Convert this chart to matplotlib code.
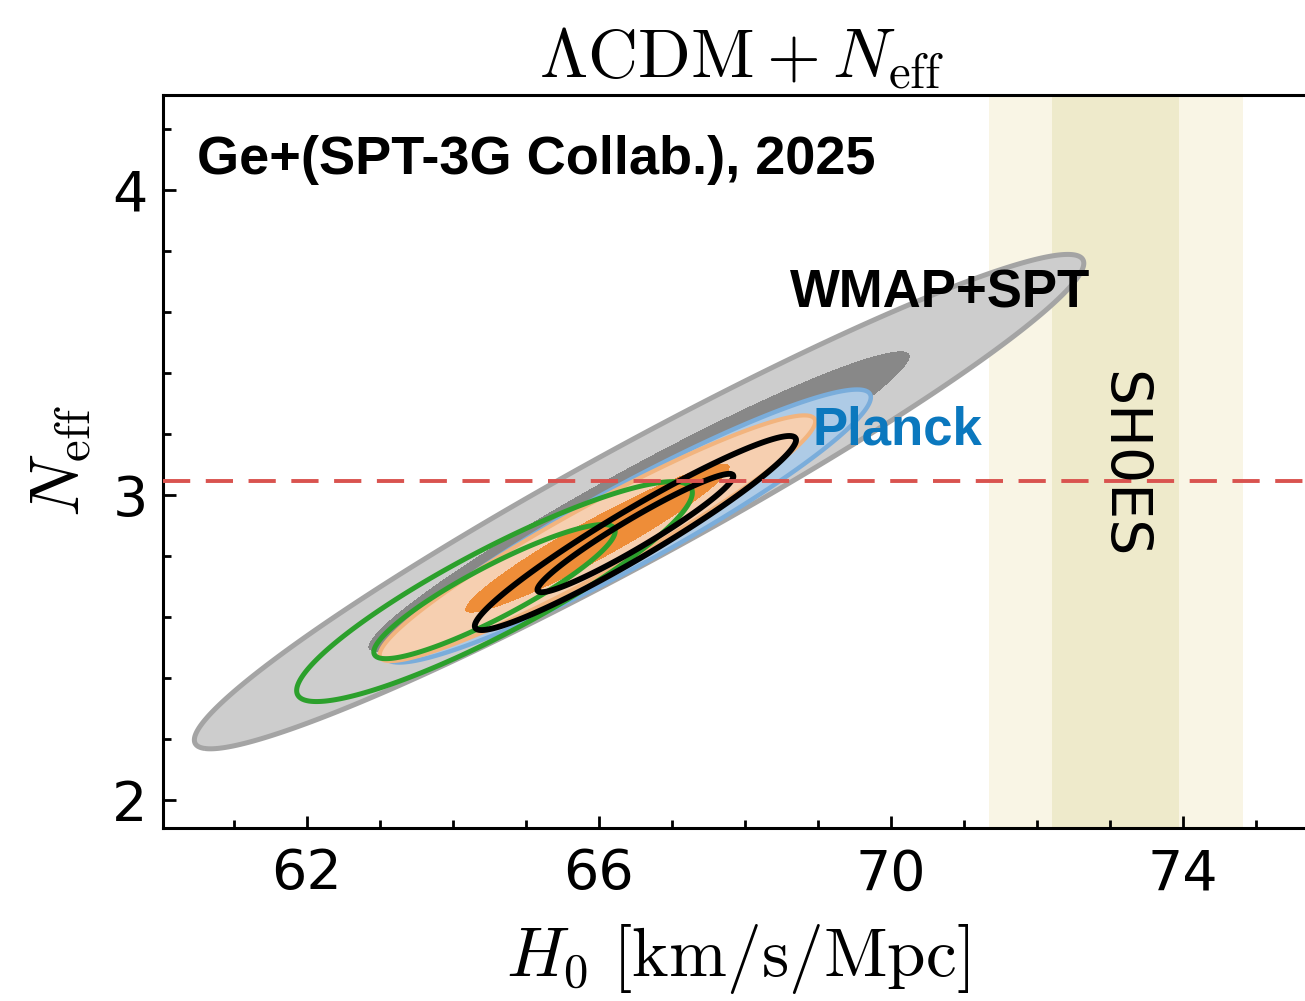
import numpy as np
import matplotlib
matplotlib.use('Agg')
import matplotlib.pyplot as plt

plt.rcParams['mathtext.fontset'] = 'cm'
plt.rcParams['font.family'] = ['DejaVu Sans']

# ---- data: Gaussian summaries of each 2D posterior ----
datasets = ['WMAP+SPT', 'Planck', 'SPT-3G', 'ACT', 'SPA']
H0_mean = [66.55, 66.40, 65.98, 64.57, 66.50]
Neff_mean = [2.978, 2.898, 2.858, 2.683, 2.875]
H0_sigma = [2.45, 1.337, 1.20, 1.09, 0.885]
Neff_sigma = [0.326, 0.180, 0.162, 0.145, 0.128]
rho = [0.964, 0.943, 0.950, 0.900, 0.958]

shoes_H0 = 73.08
shoes_sigma = 0.87
Neff_standard = 3.044

chi2_levels = [2.30, 6.18]   # 68% and 95% for 2 parameters

x_ticks = [62, 66, 70, 74]
y_ticks = [2, 3, 4]

# ---- figure ----
W, H = 1305, 1001
fig = plt.figure(figsize=(W / 100, H / 100), dpi=100)
ax_l, ax_r, ax_t, ax_b = 163, 1305, 95, 828
ax = fig.add_axes([ax_l / W, 1 - ax_b / H, (ax_r - ax_l) / W, (ax_b - ax_t) / H])

xlim = (60.03, 75.67)
ylim = (1.908, 4.311)

hx = np.linspace(58, 78, 900)
ny = np.linspace(1.5, 4.6, 900)
HX, NY = np.meshgrid(hx, ny)


def chi2(i):
    dx = (HX - H0_mean[i]) / H0_sigma[i]
    dy = (NY - Neff_mean[i]) / Neff_sigma[i]
    r = rho[i]
    return (dx ** 2 - 2 * r * dx * dy + dy ** 2) / (1 - r ** 2)


# SH0ES bands
ax.axvspan(shoes_H0 - 2 * shoes_sigma, shoes_H0 + 2 * shoes_sigma, color='#f9f5e5', zorder=0, lw=0)
ax.axvspan(shoes_H0 - shoes_sigma, shoes_H0 + shoes_sigma, color='#eeeacb', zorder=0.1, lw=0)

# WMAP+SPT (gray)
c = chi2(0)
ax.contourf(HX, NY, c, levels=[0, chi2_levels[0], chi2_levels[1]],
            colors=['#888888', '#cdcdcd'], zorder=1)
ax.contour(HX, NY, c, levels=[chi2_levels[1]], colors=['#a4a4a4'], linewidths=3.6, zorder=1.1)

# Planck (blue)
c = chi2(1)
ax.contourf(HX, NY, c, levels=[0, chi2_levels[0], chi2_levels[1]],
            colors=['#8fb9df', '#aecbe6'], zorder=2)
ax.contour(HX, NY, c, levels=[chi2_levels[1]], colors=['#7aaddb'], linewidths=3.2, zorder=2.1)

# SPT-3G (orange)
c = chi2(2)
ax.contourf(HX, NY, c, levels=[0, chi2_levels[0], chi2_levels[1]],
            colors=['#ee8d38', '#f6cfb0'], zorder=3)
ax.contour(HX, NY, c, levels=[chi2_levels[1]], colors=['#f2b47e'], linewidths=3.0, zorder=3.1)

# ACT (green lines)
c = chi2(3)
ax.contour(HX, NY, c, levels=chi2_levels, colors=['#2ca02c'], linewidths=3.6, zorder=4)

# SPA (black lines)
c = chi2(4)
ax.contour(HX, NY, c, levels=chi2_levels, colors=['black'], linewidths=4.2, zorder=5)

# Standard Neff
ax.axhline(Neff_standard, color='#d9534f', lw=2.8, dashes=(7, 4), zorder=6)

ax.set_xlim(*xlim)
ax.set_ylim(*ylim)
ax.set_xticks(x_ticks)
ax.set_yticks(y_ticks)
ax.set_xticks(np.arange(61, 76, 1), minor=True)
ax.set_yticks(np.arange(2.0, 4.31, 0.2), minor=True)
ax.tick_params(which='both', direction='in', width=2.0, labelsize=40)
ax.tick_params(which='major', length=9)
ax.tick_params(which='minor', length=6)
ax.tick_params(axis='x', pad=14)
ax.tick_params(axis='y', pad=11)
for s in ['left', 'bottom', 'top']:
    ax.spines[s].set_linewidth(2.2)
ax.spines['right'].set_visible(False)

ax.set_xlabel(r'$H_0\ [\mathrm{km/s/Mpc}]$', fontsize=50)
ax.xaxis.set_label_coords(0.503, -0.128)
ax.set_ylabel(r'$N_{\rm eff}$', fontsize=50)
ax.yaxis.set_label_coords(-0.06, 0.50)

fig.text(742 / W, 1 - 78 / H, r'$\Lambda\mathrm{CDM} + N_{\rm eff}$', fontsize=50,
         ha='center', va='baseline')

bold = dict(family='Liberation Sans', fontweight='bold')
fig.text(197 / W, 1 - 174 / H, 'Ge+(SPT-3G Collab.), 2025', fontsize=39,
         ha='left', va='baseline', **bold)
fig.text(790 / W, 1 - 308 / H, 'WMAP+SPT', fontsize=38, ha='left', va='baseline',
         color='black', zorder=10, **bold)
fig.text(812 / W, 1 - 444 / H, 'Planck', fontsize=38, ha='left', va='baseline',
         color='#0b78be', zorder=10, **bold)
fig.text(1122 / W, 1 - 465 / H, 'SH0ES', fontsize=41, ha='center', va='center',
         rotation=-90, color='black')

fig.savefig('out.png', dpi=100)
